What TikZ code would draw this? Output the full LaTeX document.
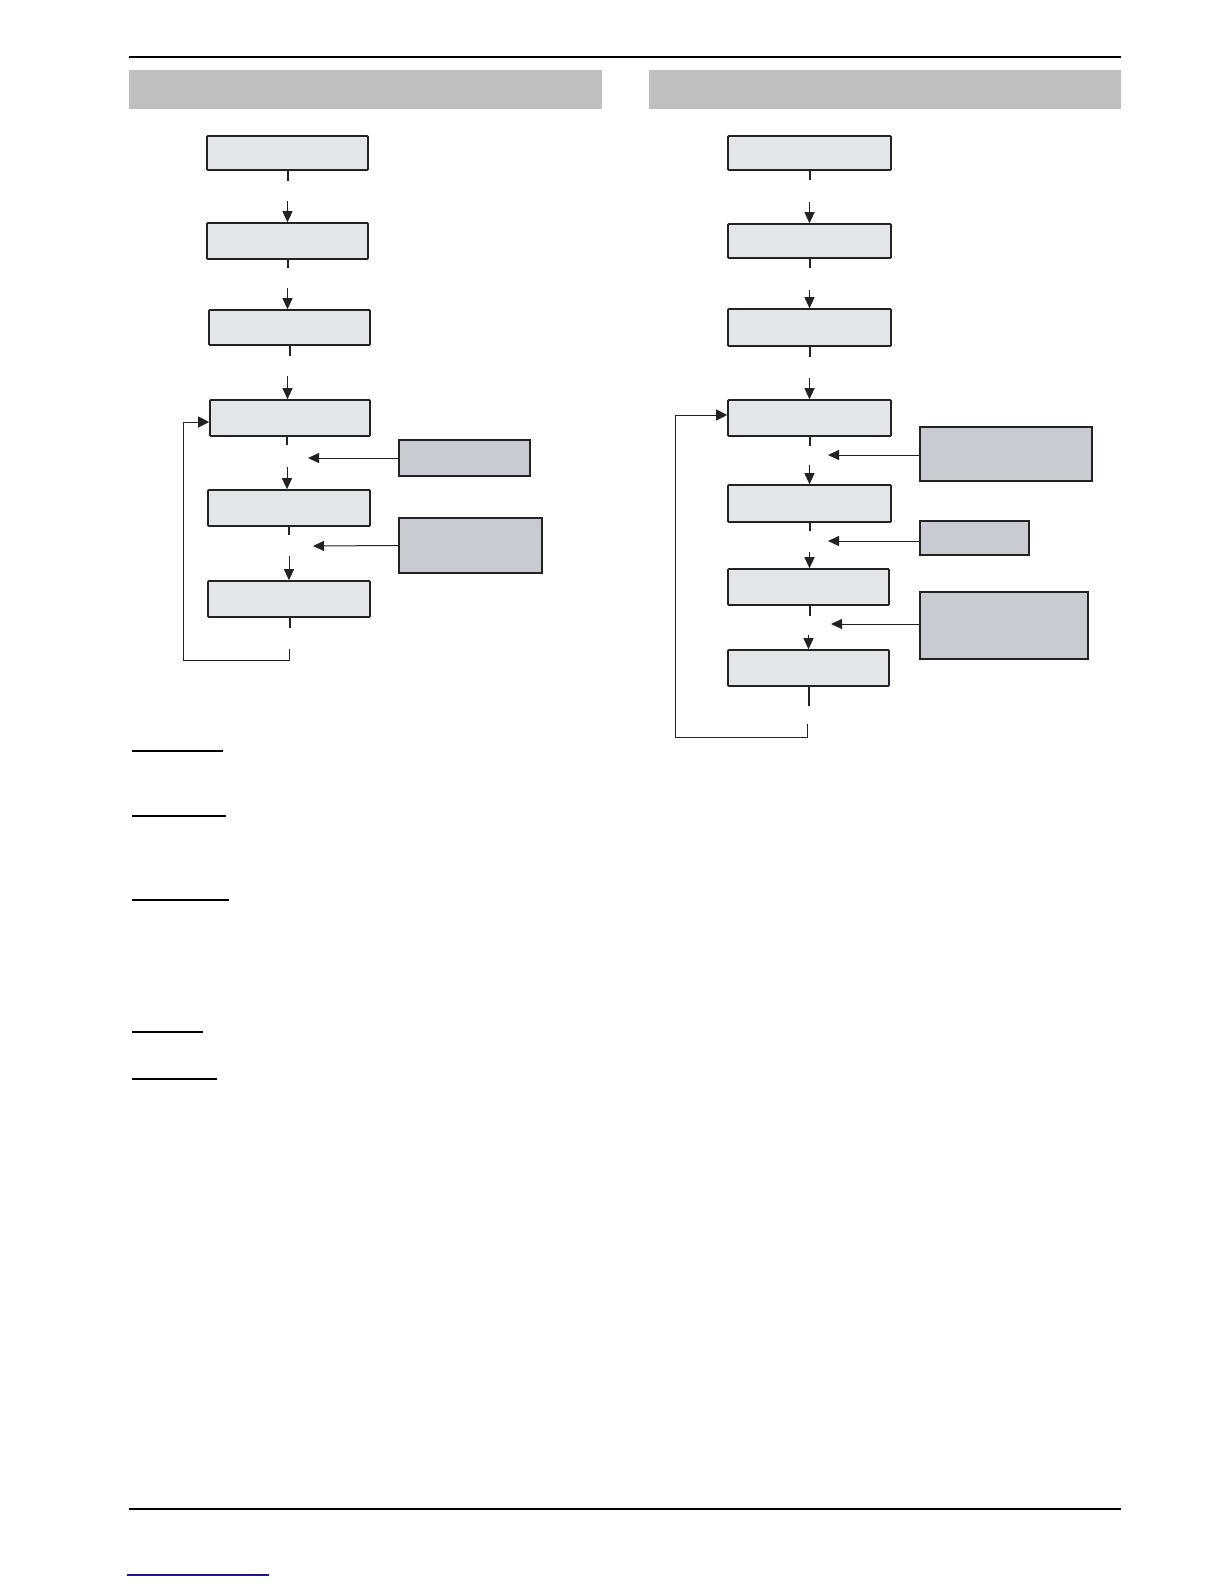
\documentclass[tikz,border=0pt]{standalone}
\usetikzlibrary{arrows.meta}
\definecolor{boxfill}{HTML}{E3E6E9}
\definecolor{sidefill}{HTML}{C8CBD2}
\definecolor{headfill}{HTML}{BFBFBF}
\definecolor{ink}{HTML}{222222}
\definecolor{linkblue}{HTML}{1A1A8C}
\tikzset{
  lbox/.style={draw=ink, fill=boxfill, line width=1.6pt, inner sep=0pt, rounded corners=0.8pt},
  sbox/.style={draw=ink, fill=sidefill, line width=1.6pt, inner sep=0pt},
  stub/.style={draw=ink, line width=2pt},
  conn/.style={draw=ink, line width=1pt, -{Triangle[length=11pt,width=10pt]}},
  loopconn/.style={draw=ink, line width=1pt, -{Triangle[length=11pt,width=11pt]}},
  rule/.style={draw=black, line width=1.2pt},
  uline/.style={draw=black, line width=1.3pt},
}
\begin{document}
\begin{tikzpicture}[x=1pt,y=-1pt]
\useasboundingbox[fill=white] (0,0) rectangle (1224,1584);
% page rules and headers
\draw[rule] (129,57) coordinate (t1) -- (1121,57) coordinate (t2);
\fill[headfill] (129,70) rectangle (602,109);
\fill[headfill] (649,70) rectangle (1121,109);
\draw[rule] (129,1509) coordinate (b1) -- (1121,1509) coordinate (b2);
\draw[linkblue, line width=1.3pt] (127,1575) coordinate (u1) -- (269,1575) coordinate (u2);
% underlines
\draw[uline] (132,751) -- (223,751);
\draw[uline] (132,816) -- (226,816);
\draw[draw=black, line width=2.6pt] (132,900) -- (229,900);
\draw[uline] (132,1032) -- (203,1032);
\draw[uline] (132,1079) -- (217,1079);

% ---------- left flowchart ----------
\node[lbox, minimum width=161pt, minimum height=34pt] (L1) at (287.5,153) {};
\node[lbox, minimum width=161pt, minimum height=36pt] (L2) at (287.5,241) {};
\node[lbox, minimum width=161pt, minimum height=35pt] (L3) at (289.5,327.5) {};
\node[lbox, minimum width=160pt, minimum height=36pt] (L4) at (290,418) {};
\node[lbox, minimum width=162pt, minimum height=36pt] (L5) at (289,508) {};
\node[lbox, minimum width=162pt, minimum height=36pt] (L6) at (289,599) {};
\node[sbox, minimum width=131pt, minimum height=36pt] (A) at (464.5,458) {};
\node[sbox, minimum width=143pt, minimum height=55pt] (B) at (470.5,545.5) {};

\draw[stub] (L1.south) -- ++(0,10);
\draw[conn] (L1.south) ++(0,30) coordinate (l12) -- (l12 |- L2.north);
\draw[stub] (L2.south) -- ++(0,8);
\draw[conn] (L2.south) ++(0,28) coordinate (l23) -- (l23 |- L3.north);
\draw[stub] (L3.south) -- ++(0,10);
\draw[conn] (L3.south) ++(-2,30) coordinate (l34) -- (l34 |- L4.north);
\draw[stub] ([xshift=-3pt]L4.south) -- ++(0,8);
\draw[conn] ([xshift=-3pt]L4.south) ++(0,30) coordinate (l45) -- (l45 |- L5.north);
\draw[stub] (L5.south) -- ++(0,8);
\draw[conn] (L5.south) ++(0,29) coordinate (l56) -- (l56 |- L6.north);
\draw[stub] ([xshift=1pt]L6.south) -- ++(0,10);
\coordinate (lgA) at (308,458);
\coordinate (lgB) at (313,546);
\draw[conn] (A.west) -- (lgA);
\draw[conn] (B.west) -- (lgB);
\coordinate (lloop) at (289,649);
\coordinate (lin) at (183,422);
\draw[loopconn] (lloop) -- (289,660) -- (183,660) -- (lin) -- (L4.west |- lin);

% ---------- right flowchart ----------
\node[lbox, minimum width=163pt, minimum height=34pt] (R1) at (809.5,153) {};
\node[lbox, minimum width=163pt, minimum height=34pt] (R2) at (809.5,241) {};
\node[lbox, minimum width=163pt, minimum height=37pt] (R3) at (809.5,327.5) {};
\node[lbox, minimum width=163pt, minimum height=36pt] (R4) at (809.5,418) {};
\node[lbox, minimum width=163pt, minimum height=37pt] (R5) at (809.5,503.5) {};
\node[lbox, minimum width=161pt, minimum height=36pt] (R6) at (808.5,587) {};
\node[lbox, minimum width=161pt, minimum height=36pt] (R7) at (808.5,668) {};
\node[sbox, minimum width=172pt, minimum height=54pt] (C) at (1006,454) {};
\node[sbox, minimum width=109pt, minimum height=34pt] (D) at (974.5,538) {};
\node[sbox, minimum width=168pt, minimum height=67pt] (E) at (1004,625.5) {};

\draw[stub] (R1.south) -- ++(0,9);
\draw[conn] (R1.south) ++(0,31) coordinate (r12) -- (r12 |- R2.north);
\draw[stub] (R2.south) -- ++(0,9);
\draw[conn] (R2.south) ++(0,31) coordinate (r23) -- (r23 |- R3.north);
\draw[stub] (R3.south) -- ++(0,10);
\draw[conn] (R3.south) ++(0,31) coordinate (r34) -- (r34 |- R4.north);
\draw[stub] (R4.south) -- ++(0,9);
\draw[conn] (R4.south) ++(0,28) coordinate (r45) -- (r45 |- R5.north);
\draw[stub] (R5.south) -- ++(0,8);
\draw[conn] (R5.south) ++(0,29) coordinate (r56) -- (r56 |- R6.north);
\draw[stub] ([xshift=1pt]R6.south) -- ++(0,10);
\draw[conn] (R6.south) ++(0,29) coordinate (r67) -- (r67 |- R7.north);
\draw[stub] (R7.south) -- ++(0,19);
\coordinate (rgC) at (828,455);
\coordinate (rgD) at (828,541);
\coordinate (rgE) at (831,624);
\draw[conn] (C.west |- rgC) -- (rgC);
\draw[conn] (D.west |- rgD) -- (rgD);
\draw[conn] (E.west |- rgE) -- (rgE);
\coordinate (rloop) at (807,724);
\coordinate (rin) at (675,415);
\draw[loopconn] (rloop) -- (807,737) -- (675,737) -- (rin) -- (R4.west |- rin);
\end{tikzpicture}
\end{document}
